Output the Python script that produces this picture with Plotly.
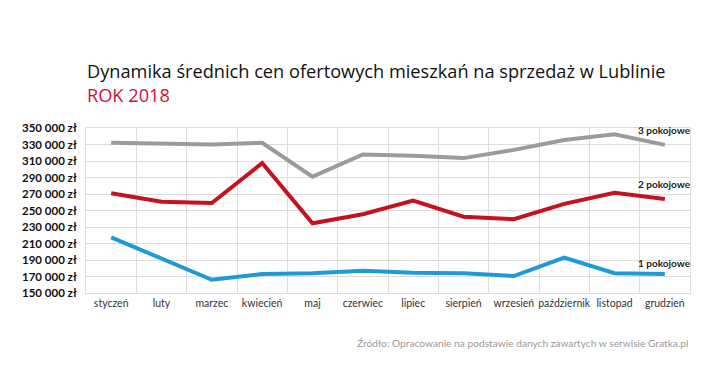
import plotly.graph_objects as go

months = ["styczeń", "luty", "marzec", "kwiecień", "maj", "czerwiec", "lipiec",
          "sierpień", "wrzesień", "październik", "listopad", "grudzień"]
rooms3 = [332000, 331000, 330000, 332000, 291000, 318000, 316500, 313500, 323500, 335500, 342500, 329500]
rooms2 = [271000, 260500, 259000, 307500, 234500, 245500, 262000, 242500, 239500, 258000, 271500, 264000]
rooms1 = [217500, 191500, 166000, 173000, 174000, 177000, 174500, 174000, 170500, 193000, 174000, 173000]
series_names = ["3 pokojowe", "2 pokojowe", "1 pokojowe"]
series_colors = ["#9b9b9b", "#c4121f", "#1e9bd7"]
y_ticks = list(range(150000, 350001, 20000))
y_ticktext = [f"{v//1000} 000 zł" for v in y_ticks]

fig = go.Figure()
for name, vals, col in zip(series_names, [rooms3, rooms2, rooms1], series_colors):
    fig.add_trace(go.Scatter(x=months, y=vals, mode="lines", name=name,
                             line=dict(color=col, width=4), hoverinfo="skip"))

label_shift = [15, 15, 11]
for name, vals, sh in zip(series_names, [rooms3, rooms2, rooms1], label_shift):
    fig.add_annotation(x=months[-1], y=vals[-1], text=f"<b>{name}</b>", showarrow=False,
                       xanchor="right", yanchor="middle", xshift=28, yshift=sh,
                       font=dict(family="Lato", size=10, color="#222"))

fig.add_annotation(xref="paper", yref="paper", x=0, y=1, xanchor="left", yanchor="bottom",
                   text="Dynamika średnich cen ofertowych mieszkań na sprzedaż w Lublinie",
                   showarrow=False, yshift=43, xshift=-1,
                   font=dict(family="Open Sans", size=18.2, color="#111"))
fig.add_annotation(xref="paper", yref="paper", x=0, y=1, xanchor="left", yanchor="bottom",
                   text="ROK 2018", showarrow=False, yshift=19, xshift=-1,
                   font=dict(family="Open Sans", size=18.2, color="#d0103a"))
fig.add_annotation(xref="paper", yref="paper", x=1, y=0, xanchor="right", yanchor="top",
                   text="Źródło: Opracowanie na podstawie danych zawartych w serwisie Gratka.pl",
                   showarrow=False, yshift=-42,
                   font=dict(family="Lato", size=10.2, color="#999"))

fig.update_layout(
    width=712, height=381,
    margin=dict(l=78, r=30, t=120, b=96),
    paper_bgcolor="white", plot_bgcolor="white",
    showlegend=False,
    xaxis=dict(type="category", tickson="boundaries", showgrid=True, gridcolor="#dddddd",
               gridwidth=1, ticks="", showline=True, linecolor="#dddddd", mirror=True,
               tickangle=0, automargin=False,
               tickfont=dict(family="Lato", size=10.5, color="#333"), range=[-0.5, 11.5]),
    yaxis=dict(range=[150000, 350000], tickvals=y_ticks, ticktext=y_ticktext,
               showgrid=True, gridcolor="#dddddd", gridwidth=1, zeroline=False,
               showline=True, linecolor="#dddddd", mirror=True, ticks="",
               ticklabelstandoff=6, automargin=False,
               tickfont=dict(family="Lato", size=11.5, color="#111", weight="bold")),
)

fig.write_html("out.html")
